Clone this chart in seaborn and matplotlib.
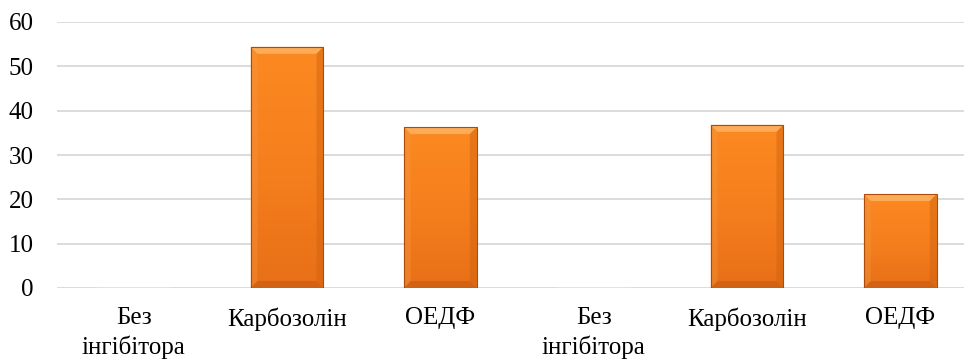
import numpy as np
import pandas as pd
import matplotlib
matplotlib.use("Agg")
import matplotlib.pyplot as plt
import seaborn as sns
from matplotlib.colors import LinearSegmentedColormap
from matplotlib.patches import Polygon

# Inhibition values for two test series
labels = ["Без\nінгібітора", "Карбозолін", "ОЕДФ",
          "Без\nінгібітора", "Карбозолін", "ОЕДФ"]
values = [0, 54.4, 36.3, 0, 36.8, 21.2]
yticks = [0, 10, 20, 30, 40, 50, 60]

df = pd.DataFrame({"pos": [str(i) for i in range(len(values))], "value": values})

sns.set_theme(style="white")
plt.rcParams["font.family"] = ["Liberation Serif", "DejaVu Serif"]

W, H = 964, 363
fig = plt.figure(figsize=(W / 100, H / 100), dpi=100)
ax = fig.add_axes([57 / W, 75 / H, 920 / W, 266 / H])

sns.barplot(data=df, x="pos", y="value", color="#F7841F", width=0.476,
            saturation=1, ax=ax, zorder=3)

ax.set_ylim(0, 60)
ax.set_yticks(yticks)
ax.set_xlim(-0.5, len(values) - 0.5)
ax.grid(axis="y", color="#D9D9D9", linewidth=1.3, zorder=0)
ax.set_axisbelow(True)
for s in ax.spines.values():
    s.set_visible(False)

ax.set_xticks(range(len(labels)))
ax.set_xticklabels(labels, fontsize=18, linespacing=1.35)
ax.tick_params(axis="x", length=0, pad=14, colors="black")
ax.tick_params(axis="y", length=0, pad=17, labelsize=18, colors="black")
ax.set_xlabel("")
ax.set_ylabel("")

# Bevelled bars: soft vertical gradient face plus light/dark edge facets
cmap = LinearSegmentedColormap.from_list("face", ["#FB8921", "#F67F1D", "#E86F17"])
grad = np.linspace(0, 1, 256).reshape(-1, 1)
px_x = len(values) / 920.0            # data units per pixel, x
px_y = 60 / 266.0                     # data units per pixel, y
bx, by = 7 * px_x, 7 * px_y
for p in list(ax.patches):
    x0, y0 = p.get_x(), p.get_y()
    w, h = p.get_width(), p.get_height()
    if h <= 0:
        continue
    x1, y1 = x0 + w, y0 + h
    im = ax.imshow(grad, cmap=cmap, aspect="auto",
                   extent=[x0, x1, y0, y1], origin="upper", zorder=3.5)
    im.set_clip_path(p)
    facets = [
        ([(x0, y1), (x1, y1), (x1 - bx, y1 - by), (x0 + bx, y1 - by)], "#FDB363", 0.85),
        ([(x0, y0), (x1, y0), (x1 - bx, y0 + by), (x0 + bx, y0 + by)], "#C45B12", 0.6),
        ([(x0, y0), (x0 + bx, y0 + by), (x0 + bx, y1 - by), (x0, y1)], "#F39A45", 0.35),
        ([(x1, y0), (x1 - bx, y0 + by), (x1 - bx, y1 - by), (x1, y1)], "#CF620F", 0.45),
    ]
    for pts, col, a in facets:
        ax.add_patch(Polygon(pts, closed=True, facecolor=col, edgecolor="none",
                             alpha=a, zorder=3.7))
    p.set_facecolor("none")
    p.set_edgecolor("#A94C0C")
    p.set_linewidth(0.8)
    p.set_zorder(4)

ax.set_xlim(-0.5, len(values) - 0.5)
ax.set_ylim(0, 60)

fig.savefig("out.png", dpi=100)
